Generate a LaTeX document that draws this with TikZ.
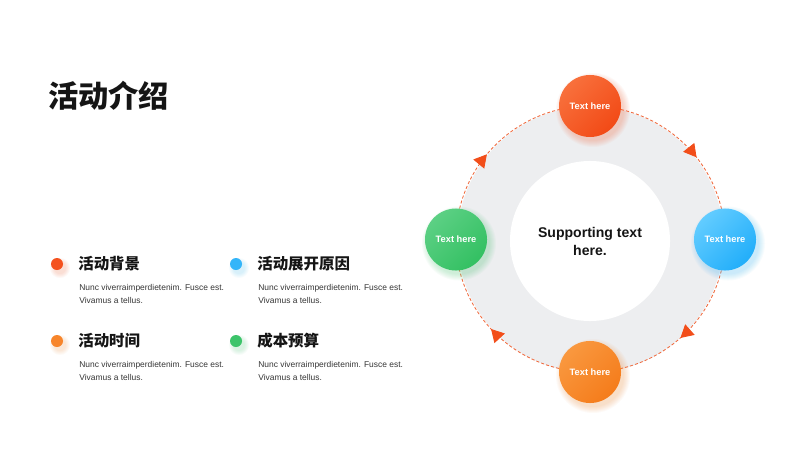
\documentclass[tikz,border=0pt]{standalone}
\usepackage{fontspec}
\setmainfont{Liberation Sans}
\newfontfamily\cjk{Noto Sans CJK SC}
\usepackage{tikz}
\usetikzlibrary{positioning,calc,backgrounds,decorations.markings,arrows.meta}

\definecolor{ringgray}{HTML}{EDEEF0}
\definecolor{flowc}{HTML}{F06A3E}
\definecolor{arrowc}{HTML}{F24E1A}
\definecolor{topA}{HTML}{F8703C}
\definecolor{topB}{HTML}{F24A16}
\definecolor{rightA}{HTML}{62CCFF}
\definecolor{rightB}{HTML}{22AEFA}
\definecolor{bottomA}{HTML}{F9983F}
\definecolor{bottomB}{HTML}{F57C1B}
\definecolor{leftA}{HTML}{5CD084}
\definecolor{leftB}{HTML}{33C062}
\definecolor{dotred}{HTML}{F4511E}
\definecolor{dotblue}{HTML}{33B5F9}
\definecolor{dotorange}{HTML}{F7852B}
\definecolor{dotgreen}{HTML}{3CC46A}
\definecolor{headc}{HTML}{151515}
\definecolor{bodyc}{HTML}{363636}

\tikzset{
  stepnode/.style 2 args={circle,minimum size=1.55cm,inner sep=0pt,top color=#1,bottom color=#2,shading angle=45,text=white,font=\bfseries\fontsize{6.6}{8}\selectfont},
  flow/.style={draw=flowc,line width=0.6pt,dash pattern=on 2.2pt off 1.5pt,postaction={decorate},
    decoration={markings,mark=at position #1 with {\arrow{Triangle[width=10pt,length=9pt,color=arrowc,fill=arrowc]}}}},
  dotmark/.style={circle,minimum size=0.3cm,inner sep=0pt,fill=#1},
  heading/.style={anchor=west,inner sep=0pt,text=headc,font=\cjk\bfseries\fontsize{11}{13}\selectfont},
  bodytext/.style={anchor=north west,inner sep=0pt,align=left,text=bodyc,font=\fontsize{6}{9.2}\selectfont},
}

\begin{document}
\begin{tikzpicture}[x=0.025cm,y=0.025cm]
		\useasboundingbox (0,0) rectangle (800,450);
		
		\node[anchor=west,inner sep=0pt,text=headc,font=\cjk\bfseries\fontsize{21.5}{26}\selectfont] (title) at (48,354) {活动介绍};
		
		\node[dotmark=dotred] (d1) at (57,186) {};
		\node[heading] (h1) at (78,186) {活动背景};
		\node[bodytext] (b1) at (79,166) {Nunc viverraimperdietenim. Fusce est.\\Vivamus a tellus.};
		\node[dotmark=dotblue] (d2) at (236,186) {};
		\node[heading] (h2) at (257,186) {活动展开原因};
		\node[bodytext] (b2) at (258,166) {Nunc viverraimperdietenim. Fusce est.\\Vivamus a tellus.};
		\node[dotmark=dotorange] (d3) at (57,109) {};
		\node[heading] (h3) at (78,109) {活动时间};
		\node[bodytext] (b3) at (79,89) {Nunc viverraimperdietenim. Fusce est.\\Vivamus a tellus.};
		\node[dotmark=dotgreen] (d4) at (236,109) {};
		\node[heading] (h4) at (257,109) {成本预算};
		\node[bodytext] (b4) at (258,89) {Nunc viverraimperdietenim. Fusce est.\\Vivamus a tellus.};
		
		\node[circle,fill=white,minimum size=4cm,inner sep=0pt,align=center,text=headc,font=\bfseries\fontsize{10}{12.8}\selectfont] (hub) at (590,209) {Supporting text\\here.};
		\node[stepnode={topA}{topB},shift={(0,135)}] (top) at (hub.center) {Text here};
		\node[stepnode={rightA}{rightB},shift={(135,1.5)}] (right) at (hub.center) {Text here};
		\node[stepnode={bottomA}{bottomB},shift={(0,-131)}] (bottom) at (hub.center) {Text here};
		\node[stepnode={leftA}{leftB},shift={(-134,1.5)}] (left) at (hub.center) {Text here};
		
		\begin{pgfonlayer}{background}
			\fill[white] (0,0) rectangle (800,450);
			\fill[ringgray] ($(left.center)!0.5!(right.center)$) circle (133);
			\draw[flow=0.44] (left.center) to[out=90,in=180] (top.center);
			\draw[flow=0.58] (top.center) to[out=0,in=90] (right.center);
			\draw[flow=0.53] (right.center) to[out=-90,in=0] (bottom.center);
			\draw[flow=0.53] (bottom.center) to[out=180,in=-90] (left.center);
			% soft glow under the circles
			\foreach \n/\c in {top/topB,right/rightB,bottom/bottomB,left/leftB}{
				\foreach \k in {1,...,7}
					\fill[\c,opacity=0.035] ($(\n.center)+(3,-4)$) circle ({30+\k});
			}
			\foreach \n/\c in {d1/dotred,d2/dotblue,d3/dotorange,d4/dotgreen}{
				\foreach \k in {1,...,5}
					\fill[\c,opacity=0.04] ($(\n.center)+(3,-4)$) circle ({5+\k});
			}
		\end{pgfonlayer}
	\end{tikzpicture}
\end{document}
